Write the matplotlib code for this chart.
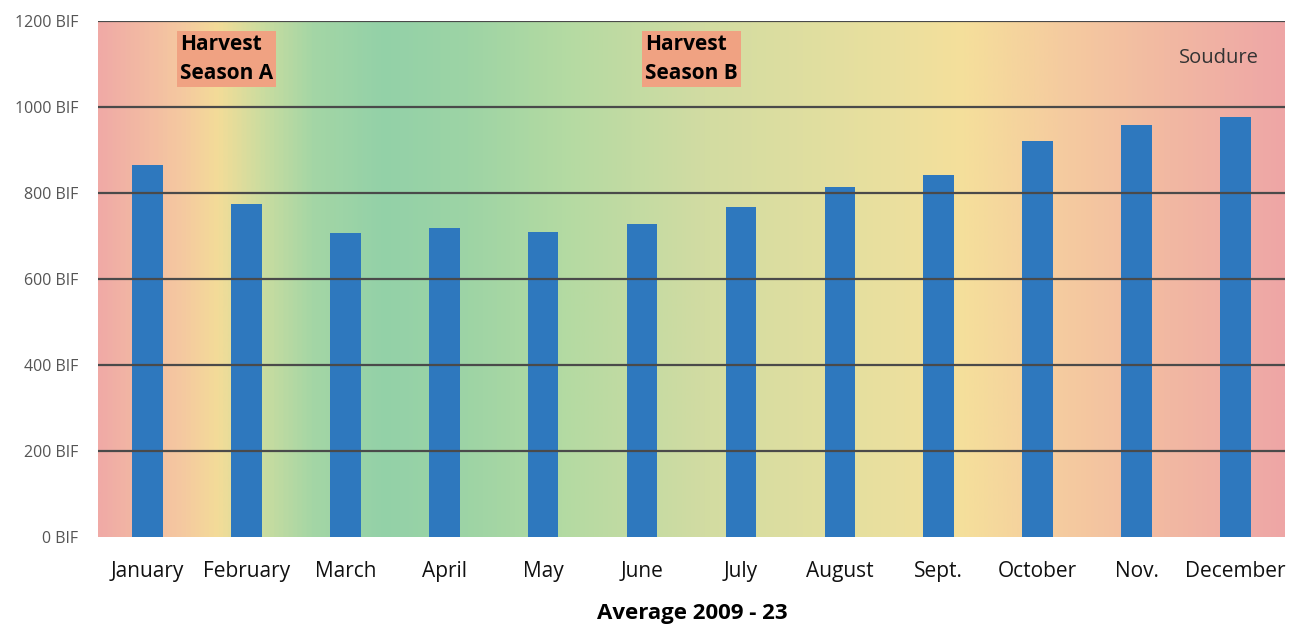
import numpy as np
import matplotlib.pyplot as plt
from matplotlib.colors import LinearSegmentedColormap

# Monthly average price (BIF), 2009 - 23
months = ['January', 'February', 'March', 'April', 'May', 'June', 'July',
          'August', 'Sept.', 'October', 'Nov.', 'December']
prices = [865, 774, 707, 719, 709, 728, 767, 814, 842, 921, 958, 977]
y_ticks = [0, 200, 400, 600, 800, 1000, 1200]
y_labels = [f'{v} BIF' for v in y_ticks]

plt.rcParams['font.family'] = ['Open Sans', 'DejaVu Sans']

fig = plt.figure(figsize=(13.12, 6.28), dpi=100)
ax = fig.add_axes([0.0747, 0.1449, 0.9047, 0.8217])

x = np.arange(len(months))
ax.set_xlim(-0.5, len(months) - 0.5)
ax.set_ylim(0, 1200)

# seasonal background: pink -> yellow -> green -> yellow -> pink
stops = [(0.00, '#f0aaa6'), (0.07, '#f5c9a0'), (0.10, '#f3dc98'),
         (0.14, '#c8dca0'), (0.18, '#a4d6a5'), (0.24, '#93d1a8'),
         (0.31, '#9dd4a5'), (0.39, '#b3daa2'), (0.51, '#d2dca2'),
         (0.68, '#ece09e'), (0.73, '#f5df9b'), (0.81, '#f5cc9f'),
         (0.90, '#f2b9a2'), (1.00, '#eea6a6')]
cmap = LinearSegmentedColormap.from_list('season', stops)
grad = np.linspace(0, 1, 512).reshape(1, -1)
ax.imshow(grad, cmap=cmap, aspect='auto', extent=(-0.5, len(months) - 0.5, 0, 1200),
          zorder=0)

ax.bar(x, prices, width=0.31, color='#2e78be', zorder=2)

ax.set_yticks(y_ticks)
ax.set_yticklabels(y_labels, fontsize=11.5, color='#555555')
ax.yaxis.grid(True, color='#4a4a4a', linewidth=1.6, zorder=1)
ax.get_ygridlines()[0].set_visible(False)
ax.set_axisbelow(False)
ax.set_xticks(x)
ax.set_xticklabels(months, fontsize=15, color='#111111')
ax.tick_params(axis='both', length=0)
ax.tick_params(axis='x', pad=17)
ax.tick_params(axis='y', pad=14)
for s in ax.spines.values():
    s.set_visible(False)

box = dict(boxstyle='square,pad=0.15', facecolor='#f0a282', edgecolor='none')
ax.text(0.33, 1170, 'Harvest\nSeason A', fontsize=15, fontweight='bold',
        ha='left', va='top', linespacing=1.5, bbox=box, zorder=3)
ax.text(5.03, 1170, 'Harvest\nSeason B', fontsize=15, fontweight='bold',
        ha='left', va='top', linespacing=1.5, bbox=box, zorder=3)
ax.text(11.24, 1113, 'Soudure', fontsize=14.5, color='#333333',
        ha='right', va='center', zorder=3)

fig.text(0.528, 0.006, 'Average 2009 - 23', fontsize=16, fontweight='bold',
         ha='center', va='bottom')

fig.savefig('out.png', dpi=100)
